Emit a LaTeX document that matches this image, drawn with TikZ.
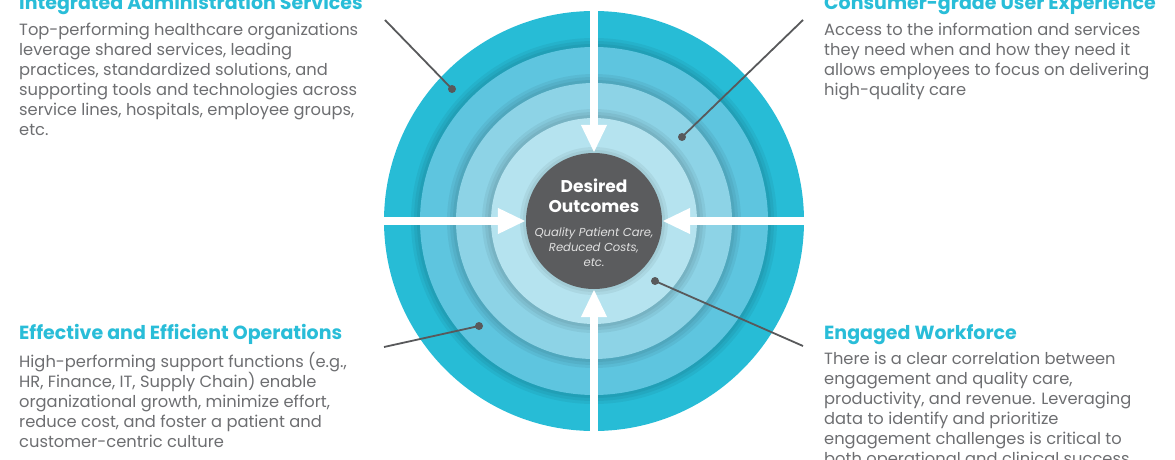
\documentclass[tikz,border=0pt]{standalone}
\usepackage{fontspec}
\setmainfont{Poppins}
\usetikzlibrary{positioning,arrows.meta,calc}
\definecolor{ringA}{HTML}{27BCD6}
\definecolor{ringB}{HTML}{5EC5DF}
\definecolor{ringC}{HTML}{8DD3E6}
\definecolor{ringD}{HTML}{B5E3EF}
\definecolor{coregray}{HTML}{5B5C5E}
\definecolor{titlecol}{HTML}{29BDD8}
\definecolor{bodycol}{HTML}{6D6E71}
\definecolor{leadcol}{HTML}{58595B}
\tikzset{
  ring/.style={circle, inner sep=0pt, minimum size=#1},
  head/.style={font=\bfseries\fontsize{19}{22}\selectfont, text=titlecol, inner sep=0pt, anchor=base west},
  body/.style={font=\fontsize{16.3}{20}\selectfont, text=bodycol, align=left, inner sep=0pt},
  dot/.style={circle, fill=leadcol, inner sep=0pt, minimum size=8pt},
  lead/.style={draw=leadcol, line width=1.8pt},
  gapbar/.style={draw=white, line width=8pt, -{Triangle[width=24pt,length=28pt]}}
}

\begin{document}
\begin{tikzpicture}[x=1pt, y=-1pt]
    \useasboundingbox (0,0) rectangle (1175,460);
    \coordinate (c) at (594,221);

    % rings
    \node [ring=420pt, fill=ringA] (r1) at (c) {};
    \foreach \n/\r/\col in {r2/174/ringB, r3/138/ringC, r4/103/ringD}{
        \foreach \s in {9,6,3}
            \fill [black, opacity=.05] (c) circle [radius={(\r+\s)*1pt}];
        \node [ring={2*\r*1pt}, fill=\col] (\n) at (c) {};
    }
    \foreach \s in {6,3}
        \fill [black, opacity=.05] (c) circle [radius={(68+\s)*1pt}];
    \node [ring=136pt, fill=coregray] (core) at (c) {};
    \node [font=\bfseries\fontsize{17}{20}\selectfont, text=white, align=center, inner sep=0pt, anchor=south] (coreT) at (594,213) {Desired\\Outcomes};
    \node [font=\itshape\fontsize{11.6}{15}\selectfont, text=white!88!black, align=center, inner sep=0pt, below=14pt of coreT] (coreS) {Quality Patient Care,\\Reduced Costs,\\etc.};

    % white gaps with arrows
    \draw [gapbar, shorten <=-3pt] (r1.north) -- (core.north);
    \draw [gapbar, shorten <=-3pt] (r1.south) -- (core.south);
    \draw [gapbar, shorten <=-3pt] (r1.west) -- (core.west);
    \draw [gapbar, shorten <=-3pt] (r1.east) -- (core.east);

    % leaders
    \node [dot] (d1) at (452,89) {};
    \node [dot] (d2) at (682,137) {};
    \node [dot] (d3) at (479,326) {};
    \node [dot] (d4) at (655,281) {};
    \coordinate (e1) at (385,20);
    \coordinate (e2) at (803,20);
    \coordinate (e3) at (384,347);
    \coordinate (e4) at (803,346);
    \draw [lead] (e1) -- (d1.center);
    \draw [lead] (e2) -- (d2.center);
    \draw [lead] (e3) -- (d3.center);
    \draw [lead] (e4) -- (d4.center);

    % texts
    \node [head] (adminT) at (19,10) {Integrated Administration Services};
    \node [body, below=7.5pt of adminT.south west, anchor=north west] (admin)
        {Top-performing healthcare organizations\\leverage shared services, leading\\practices, standardized solutions, and\\supporting tools and technologies across\\service lines, hospitals, employee groups,\\etc.};
    \node [head] (userT) at (824,10) {Consumer-grade User Experience};
    \node [body, below=7.5pt of userT.south west, anchor=north west] (user)
        {Access to the information and services\\they need when and how they need it\\allows employees to focus on delivering\\high-quality care};
    \node [head] (opsT) at (19,339) {Effective and Efficient Operations};
    \node [body, below=7.5pt of opsT.south west, anchor=north west] (ops)
        {High-performing support functions (e.g.,\\HR, Finance, IT, Supply Chain) enable\\organizational growth, minimize effort,\\reduce cost, and foster a patient and\\customer-centric culture};
    \node [head] (workT) at (824,339) {Engaged Workforce};
    \node [body, below=7.5pt of workT.south west, anchor=north west] (work)
        {There is a clear correlation between\\engagement and quality care,\\productivity, and revenue. Leveraging\\data to identify and prioritize\\engagement challenges is critical to\\both operational and clinical success.};
\end{tikzpicture}
\end{document}
